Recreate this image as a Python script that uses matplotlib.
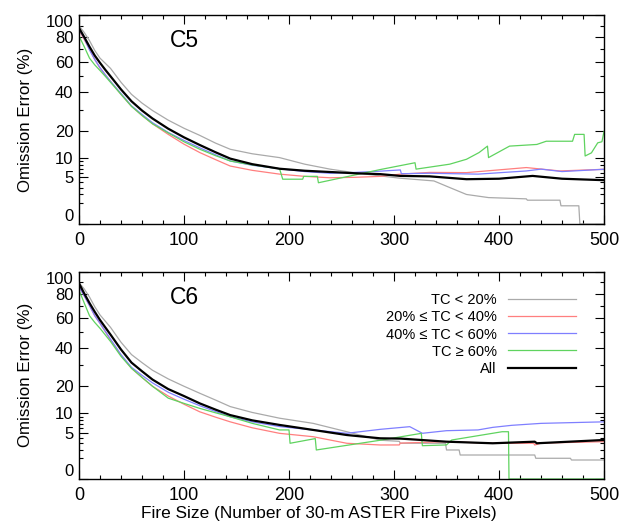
import numpy as np
import matplotlib
matplotlib.use('Agg')
import matplotlib.pyplot as plt

plt.rcParams['font.family'] = ['Liberation Sans', 'DejaVu Sans']

# ---- C5 panel (omission error in %) ----
c5_grey_x = [0, 5, 10, 15, 20, 30, 40, 50, 60, 70, 85, 100, 115, 130, 144, 165, 191, 215, 239, 263, 287, 306,
             338, 353, 369, 390, 426, 427, 458, 459, 476, 477, 500]
c5_grey_y = [90, 84, 77, 69, 63, 55.5, 46, 38.5, 33.5, 29.5, 24.7, 21, 18, 15, 12.8, 11.3, 10.1, 8.2, 6.9, 6.0, 5.3, 4.8,
             4.25, 3.05, 2.0, 1.6, 1.45, 1.3, 1.3, 0.76, 0.76, 0, 0]
c5_red_x = [0, 5, 10, 15, 20, 25, 30, 40, 50, 60, 70, 85, 100, 115, 130, 144, 165, 191, 215, 239, 263, 287, 306,
            334, 369, 426, 458, 500]
c5_red_y = [86, 78, 70, 62, 55.7, 51, 46.6, 38.5, 31.7, 27, 23, 18.4, 14.6, 11.7, 9.5, 7.7, 6.6, 5.7, 5.2, 4.9, 5.0, 5.2, 5.7,
            6.1, 6.05, 7.3, 6.45, 6.86]
c5_blue_x = [0, 5, 10, 15, 20, 25, 30, 40, 50, 60, 70, 85, 100, 115, 130, 144, 165, 191, 215, 239, 263, 287, 306,
             307, 334, 380, 426, 440, 460, 500]
c5_blue_y = [87, 79, 69.4, 62, 56, 51, 46.6, 39, 32, 27.5, 23.5, 19.2, 16, 13.3, 11, 9.1, 7.9, 7.0, 6.3, 5.9, 6.1, 6.4, 6.7,
             5.8, 5.9, 5.7, 6.45, 6.9, 6.3, 6.86]
c5_green_x = [0, 5, 10, 15, 20, 25, 30, 40, 50, 60, 70, 85, 100, 115, 130, 144, 165, 191, 194, 213, 214, 227, 228,
              287, 320, 321, 353, 369, 381, 389, 390, 410, 436, 445, 470, 472, 481, 482, 488, 494, 498, 500]
c5_green_y = [81, 72, 63, 58, 54, 50, 46, 38.5, 31.7, 27, 23, 19, 15.5, 12.8, 10.7, 9.1, 8, 7.0, 4.6, 4.6, 5.2, 5.2, 3.9,
              6.8, 8.6, 6.9, 8.2, 9.6, 11.7, 13.9, 10.1, 13.9, 14.5, 15.7, 15.7, 18.4, 18.4, 10.6, 11.6, 15.1, 15.5, 19.7]
c5_all_x = [0, 5, 10, 15, 20, 25, 30, 40, 50, 60, 70, 85, 100, 115, 130, 144, 165, 191, 215, 239, 263, 287, 306,
            334, 369, 400, 432, 460, 500]
c5_all_y = [88, 80, 72, 65, 59.5, 54.5, 50, 41.5, 34.5, 29.5, 25.5, 20.8, 17.2, 14.3, 11.8, 9.8, 8.2, 7.0, 6.5, 6.2, 5.9,
            5.7, 5.3, 5.2, 4.6, 4.7, 5.3, 4.7, 4.4]

# ---- C6 panel ----
c6_grey_x = [0, 5, 10, 15, 20, 30, 40, 50, 60, 70, 85, 100, 115, 130, 144, 165, 191, 223, 255, 287, 305, 306,
             349, 350, 362, 363, 434, 435, 468, 469, 500]
c6_grey_y = [89.6, 84, 77, 69, 62.6, 53.5, 43.5, 36, 31.5, 27.5, 23.3, 20, 17.1, 14.5, 12.2, 10.3, 8.6, 7.2, 5.2, 3.5, 3.3,
             2.97, 2.97, 1.96, 1.96, 1.34, 1.34, 1.0, 1.0, 0.84, 0.84]
c6_red_x = [0, 5, 10, 15, 20, 30, 40, 50, 60, 70, 85, 100, 115, 130, 144, 165, 191, 223, 255, 287, 305, 306,
            350, 394, 433, 434, 440, 500]
c6_red_y = [86, 78, 70, 62, 56.4, 45, 35.5, 28.5, 24, 20, 16, 13, 10.5, 8.9, 7.6, 6.1, 4.85, 4.16, 2.97, 2.69, 2.7, 3.0,
            3.24, 2.97, 2.97, 2.69, 3.0, 3.24]
c6_blue_x = [0, 5, 10, 15, 20, 30, 40, 50, 60, 70, 85, 100, 115, 130, 144, 165, 191, 223, 255, 287, 315, 327,
             350, 380, 394, 412, 440, 500]
c6_blue_y = [86, 78, 70, 62, 56.4, 45.5, 36, 29, 25, 21.5, 17.5, 14.8, 12.5, 10.6, 9.0, 7.6, 6.4, 5.6, 4.86, 5.74, 6.37, 4.86,
             5.43, 5.6, 6.2, 6.7, 7.2, 7.6]
c6_green_x = [0, 5, 10, 15, 20, 30, 40, 50, 60, 70, 85, 100, 115, 130, 144, 165, 191, 200, 201, 225, 226, 287,
              326, 327, 350, 355, 403, 409, 409.5, 500]
c6_green_y = [83, 72, 62, 57, 52.8, 44, 35, 28.5, 24, 20, 15.2, 13.3, 11.6, 10.2, 9.0, 7.2, 5.6, 5.6, 2.97, 3.8, 1.96, 3.5,
              4.85, 2.58, 2.7, 3.54, 5.2, 5.2, 0, 0]
c6_all_x = [0, 5, 10, 15, 20, 25, 30, 40, 50, 60, 70, 85, 100, 115, 130, 144, 165, 191, 223, 255, 287, 306,
            350, 394, 434, 436, 500]
c6_all_y = [89, 80, 72, 65, 58.8, 53.5, 48.5, 39, 31.5, 27, 23, 18.8, 16, 13.3, 11.2, 9.5, 8, 6.8, 5.6, 4.5, 3.85, 3.8,
            3.24, 2.97, 3.24, 2.97, 3.54]

labels = ['TC < 20%', '20% \u2264 TC < 40%', '40% \u2264 TC < 60%', 'TC \u2265 60%', 'All']
colors = ['#aaaaaa', '#ff7f7f', '#7f7fff', '#5fd35f', 'black']
widths = [0.9, 0.9, 0.9, 0.9, 1.6]

panels = [
    ('C5', [(c5_grey_x, c5_grey_y), (c5_red_x, c5_red_y), (c5_blue_x, c5_blue_y),
            (c5_green_x, c5_green_y), (c5_all_x, c5_all_y)]),
    ('C6', [(c6_grey_x, c6_grey_y), (c6_red_x, c6_red_y), (c6_blue_x, c6_blue_y),
            (c6_green_x, c6_green_y), (c6_all_x, c6_all_y)]),
]

yticks = [0, 5, 10, 20, 40, 60, 80, 100]
yminor = [1, 2, 3, 4, 6, 7, 8, 9, 30, 50, 70, 90]


def fwd(v):
    return np.sqrt(np.clip(v, 0, None))


def inv(v):
    return np.asarray(v) ** 2


fig = plt.figure(figsize=(6.29, 5.25), dpi=100)
boxes = [[0.1256, 0.5733, 0.8347, 0.398], [0.1256, 0.0876, 0.8347, 0.395]]

for i, (name, series) in enumerate(panels):
    ax = fig.add_axes(boxes[i])
    ax.set_yscale('function', functions=(fwd, inv))
    for (xs, ys), lab, c, lw in zip(series, labels, colors, widths):
        ax.plot(xs, ys, color=c, lw=lw, label=lab)
    ax.set_xlim(0, 500)
    ax.set_ylim(0, 100)
    ax.set_yticks(yticks)
    ax.set_yticks(yminor, minor=True)
    ax.set_xticks(np.arange(0, 501, 100))
    ax.set_xticks(np.arange(0, 501, 20), minor=True)
    ax.tick_params(which='both', direction='in', top=True, right=True, width=0.8)
    ax.tick_params(which='major', length=6.5)
    ax.tick_params(which='minor', length=3.2)
    ax.tick_params(axis='x', labelsize=13, pad=6)
    ax.tick_params(axis='y', labelsize=12, pad=4)
    ylabs = ax.get_yticklabels()
    ylabs[0].set_va('bottom')
    ylabs[-1].set_va('top')
    for sp in ax.spines.values():
        sp.set_linewidth(1.0)
    ax.set_ylabel('Omission Error (%)', fontsize=12.2)
    ax.yaxis.set_label_coords(-0.088, 0.5)
    ax.text(0.173, 0.876, name, transform=ax.transAxes, fontsize=16.5, ha='left', va='center')
    if i == 1:
        ax.set_xlabel('Fire Size (Number of 30-m ASTER Fire Pixels)', fontsize=12.4)
        ax.xaxis.set_label_coords(0.457, -0.128)
        ax.legend(loc='upper right', bbox_to_anchor=(0.9467, 0.895), frameon=False, markerfirst=False,
                  fontsize=10.5, handlelength=4.7, handletextpad=0.75, labelspacing=0.21,
                  borderpad=0, borderaxespad=0)

fig.savefig('out.png', dpi=100)
